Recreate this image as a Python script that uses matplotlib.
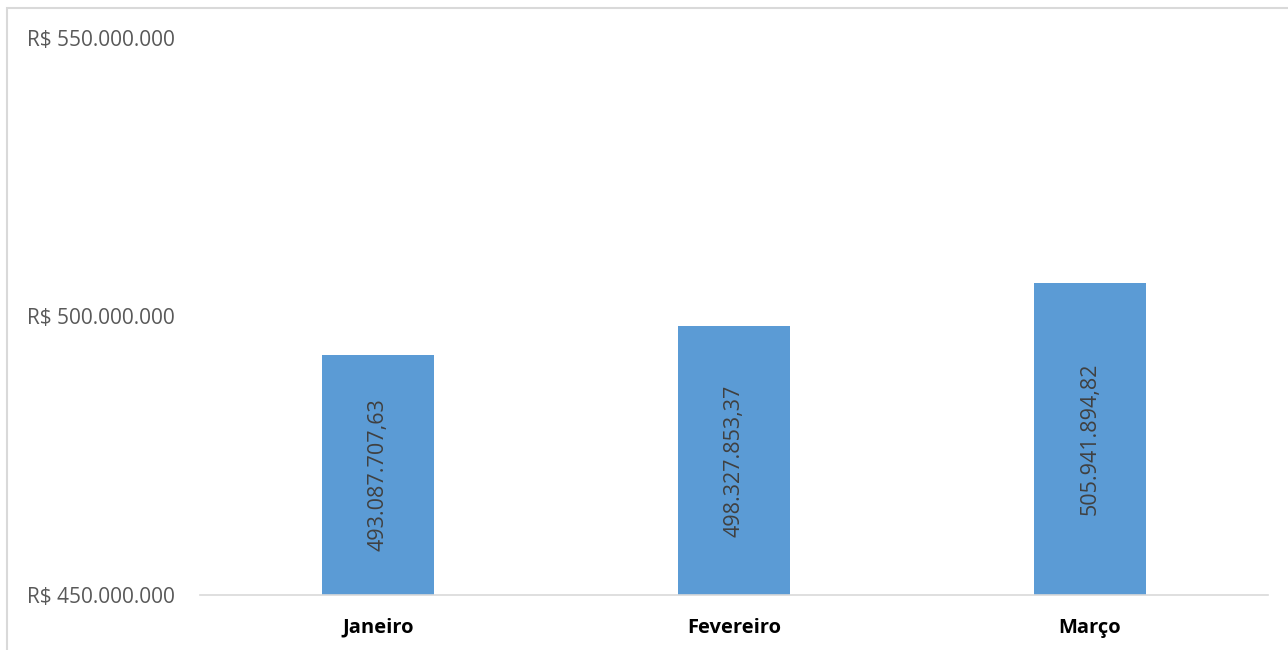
import matplotlib.pyplot as plt
from matplotlib.patches import Rectangle
from matplotlib.ticker import FuncFormatter

# data
meses = ['Janeiro', 'Fevereiro', 'Março']
valores = [493087707.63, 498327853.37, 505941894.82]
yticks = [450000000, 500000000, 550000000]


def br_num(v, dec=0):
    s = f"{v:,.{dec}f}"
    return s.replace(',', 'X').replace('.', ',').replace('X', '.')


plt.rcParams['font.family'] = ['Open Sans', 'DejaVu Sans']

fig = plt.figure(figsize=(12.88, 6.5), dpi=100)
ax = fig.add_axes([200 / 1288, 1 - 595 / 650, 1068 / 1288, (595 - 38) / 650])

# outer chart border
fig.patches.append(Rectangle((7 / 1288, -0.1), 1.2, 1 - 8 / 650 + 0.1,
                             transform=fig.transFigure, fill=False,
                             edgecolor='#d9d9d9', linewidth=1.5))

x = range(len(meses))
bars = ax.bar(x, valores, width=0.315, color='#5b9bd5', zorder=2)

ax.set_ylim(450000000, 550000000)
ax.set_xlim(-0.5, len(meses) - 0.5)
ax.set_yticks(yticks)
ax.yaxis.set_major_formatter(FuncFormatter(lambda v, p: 'R$ ' + br_num(v)))
ax.set_xticks(list(x))
ax.set_xticklabels(meses, fontsize=14.5, fontweight='bold', color='black')

for s in ['top', 'right', 'left']:
    ax.spines[s].set_visible(False)
ax.spines['bottom'].set_color('#d9d9d9')
ax.spines['bottom'].set_linewidth(1.2)
ax.tick_params(axis='y', length=0, pad=18, labelsize=15, labelcolor='#595959')
ax.tick_params(axis='x', length=0, pad=16.5)

# value labels inside the bars
for b, v in zip(bars, valores):
    ymid = (450000000 + v) / 2
    ax.text(b.get_x() + b.get_width() / 2, ymid, br_num(v, 2),
            rotation=90, ha='center', va='center', fontsize=15.5,
            color='#404040', zorder=3)

plt.savefig('out.png', dpi=100)
plt.close('all')
